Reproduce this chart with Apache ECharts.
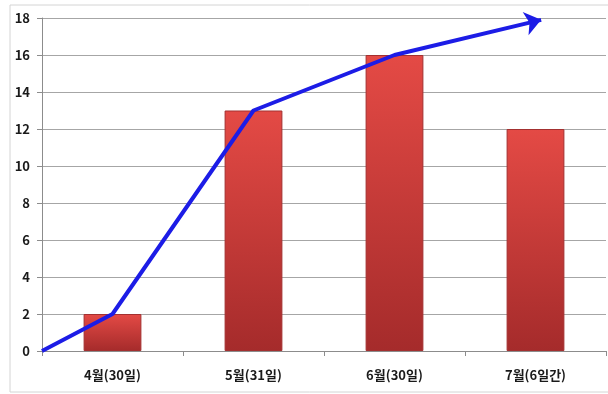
<!DOCTYPE html>
<html>
<head>
<meta charset="utf-8">
<script src="https://cdn.jsdelivr.net/npm/echarts@6/dist/echarts.min.js"></script>
<style>
  html, body { margin: 0; padding: 0; background: #fff; }
  #chart { width: 608px; height: 394px; }
</style>
</head>
<body>
<div id="chart"></div>
<script>
// Monthly counts shown as bars
const categories = ['4월(30일)', '5월(31일)', '6월(30일)', '7월(6일간)'];
const barValues = [2, 13, 16, 12];

// Trend arrow: x positions in category units (0 = left edge, 0.5 = first bar centre)
const trendX = [0, 0.5, 1.5, 2.5, 3.54];
const trendY = [0, 2, 13, 16, 17.9];

// Y axis ticks
const yMin = 0, yMax = 18, yStep = 2;

const chart = echarts.init(document.getElementById('chart'));

const trendData = trendX.map((x, i) => {
  const item = { value: [x, trendY[i]] };
  if (i === trendX.length - 1) {
    item.symbol = 'arrow';
    item.symbolSize = [18, 16];
    item.symbolRotate = -76;
  }
  return item;
});

const labelFont = { fontFamily: '"Noto Sans CJK KR", "Noto Sans", sans-serif', fontWeight: 'bold', color: '#1a1a1a' };

chart.setOption({
  animation: false,
  backgroundColor: '#fff',
  graphic: [{
    type: 'rect',
    shape: { x: 10, y: 5, width: 620, height: 387 },
    style: { fill: 'none', stroke: '#d4d4d4', lineWidth: 1 },
    z: -1
  }],
  grid: { left: 42, right: 2, top: 18, bottom: 43 },
  xAxis: [{
    type: 'category',
    data: categories,
    axisLine: { lineStyle: { color: '#8c8c8c' } },
    axisTick: { show: true, length: 5, lineStyle: { color: '#8c8c8c' } },
    axisLabel: Object.assign({ fontSize: 13, margin: 18 }, labelFont)
  }, {
    type: 'value',
    min: 0, max: 4,
    show: false
  }],
  yAxis: {
    type: 'value',
    min: yMin, max: yMax, interval: yStep,
    axisLine: { show: true, lineStyle: { color: '#8c8c8c' } },
    axisTick: { show: true, length: 5, lineStyle: { color: '#8c8c8c' } },
    splitLine: { lineStyle: { color: '#a6a6a6' } },
    axisLabel: Object.assign({ fontSize: 13, margin: 12 }, labelFont)
  },
  series: [{
    type: 'bar',
    data: barValues,
    barWidth: '41%',
    itemStyle: {
      color: new echarts.graphic.LinearGradient(0, 0, 0, 1, [
        { offset: 0, color: '#e44a45' },
        { offset: 1, color: '#a52b2b' }
      ]),
      borderColor: '#a33030',
      borderWidth: 1
    }
  }, {
    type: 'line',
    xAxisIndex: 1,
    data: trendData,
    symbol: 'none',
    lineStyle: { color: '#1c1ce6', width: 4 },
    itemStyle: { color: '#1c1ce6' },
    z: 5
  }]
});
</script>
</body>
</html>
